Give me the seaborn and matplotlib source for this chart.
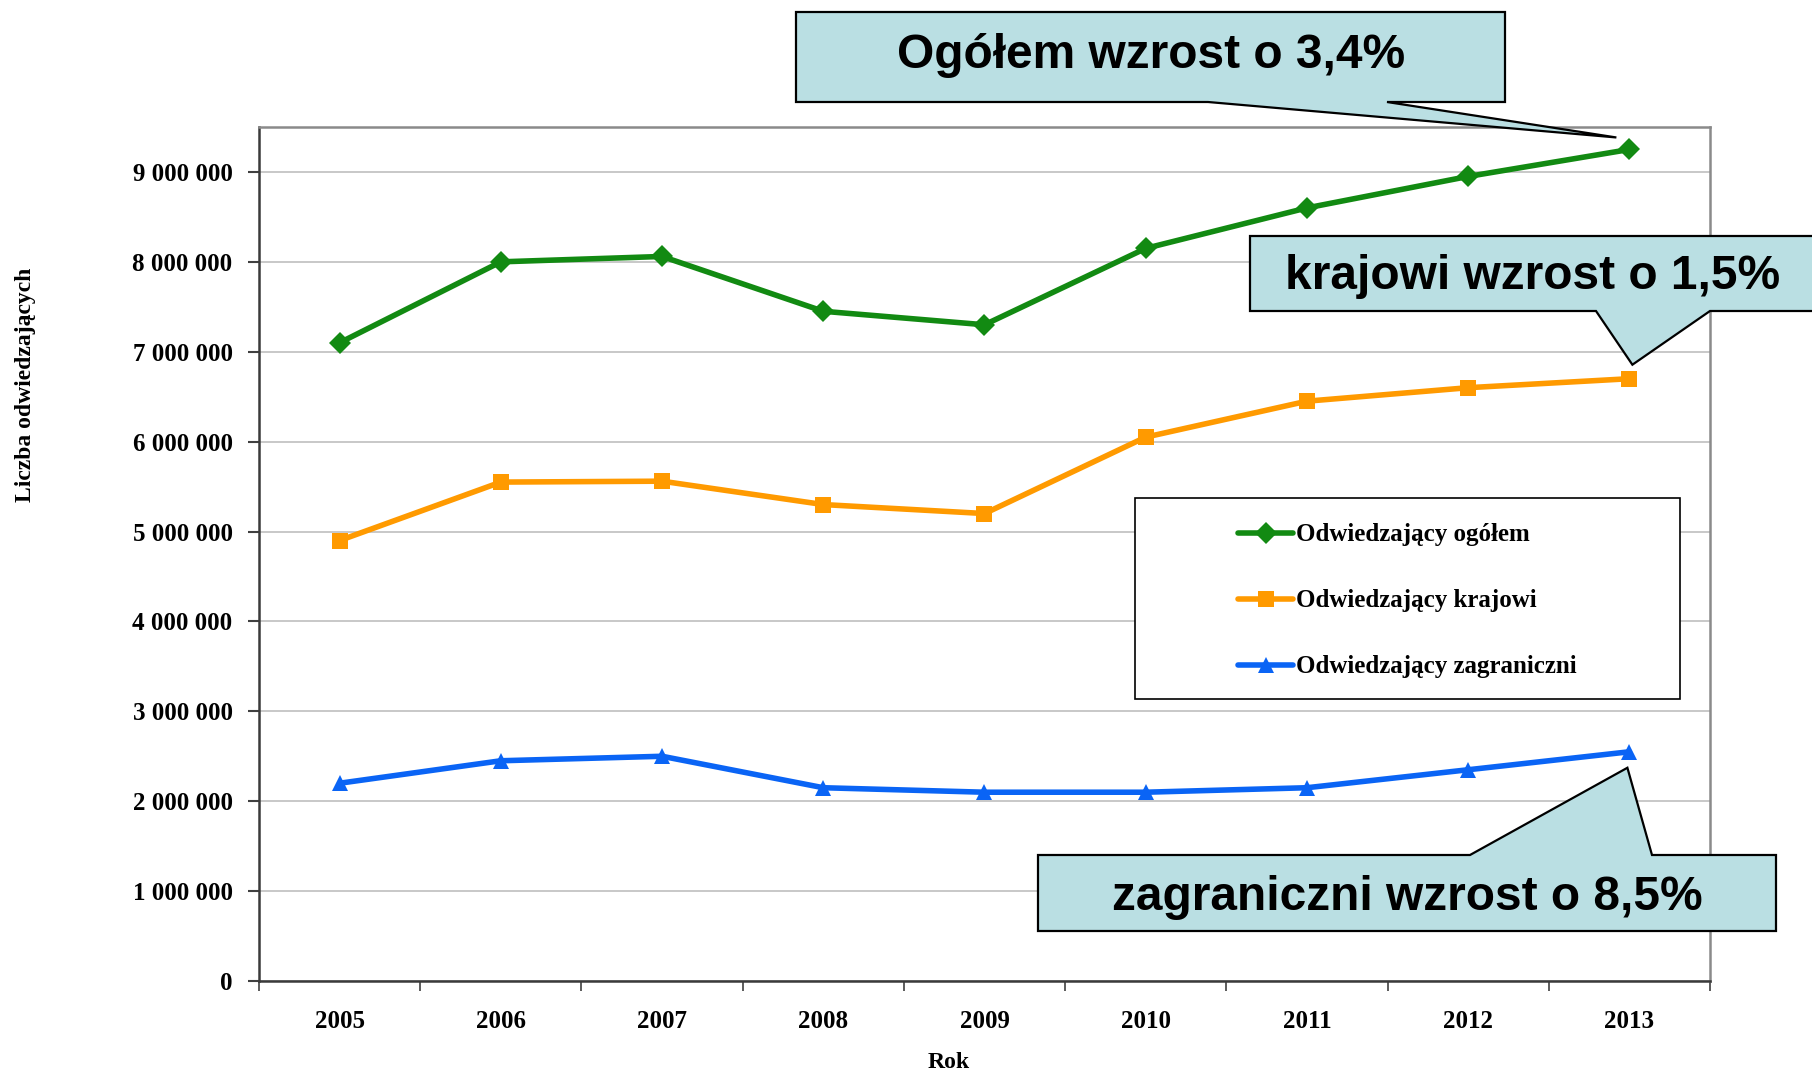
import numpy as np
import pandas as pd
import matplotlib.pyplot as plt
import seaborn as sns
from matplotlib.patches import Polygon, Rectangle
from matplotlib.ticker import FuncFormatter, FixedLocator

# === Data ===
years = [2005, 2006, 2007, 2008, 2009, 2010, 2011, 2012, 2013]
ogolem = [7100000, 8000000, 8060000, 7450000, 7300000, 8150000, 8600000, 8950000, 9250000]
krajowi = [4900000, 5550000, 5560000, 5300000, 5200000, 6050000, 6450000, 6600000, 6700000]
zagraniczni = [2200000, 2450000, 2500000, 2150000, 2100000, 2100000, 2150000, 2350000, 2550000]

series_names = ["Odwiedzający ogółem", "Odwiedzający krajowi", "Odwiedzający zagraniczni"]
callout_texts = ["Ogółem wzrost o 3,4%", "krajowi wzrost o 1,5%", "zagraniczni wzrost o 8,5%"]

colors = {series_names[0]: "#128A12", series_names[1]: "#FF9A00", series_names[2]: "#0A64F5"}
markers = {series_names[0]: "D", series_names[1]: "s", series_names[2]: "^"}

df = pd.DataFrame({
    "Rok": years * 3,
    "value": ogolem + krajowi + zagraniczni,
    "series": np.repeat(series_names, len(years)),
})

sns.set_style("white")
plt.rcParams["font.family"] = ["Liberation Serif", "DejaVu Serif"]
plt.rcParams["text.color"] = "black"
plt.rcParams["axes.labelcolor"] = "black"
plt.rcParams["xtick.color"] = "black"
plt.rcParams["ytick.color"] = "black"

W, H = 1812, 1072
fig = plt.figure(figsize=(W / 100, H / 100), dpi=100)
ax_l, ax_r, ax_t, ax_b = 259, 1710, 127, 981
ax = fig.add_axes([ax_l / W, 1 - ax_b / H, (ax_r - ax_l) / W, (ax_b - ax_t) / H])

sns.lineplot(
    data=df, x="Rok", y="value", hue="series", style="series",
    hue_order=series_names, style_order=series_names,
    palette=colors, markers=markers, dashes=False,
    linewidth=4.0, markersize=11.5, markeredgewidth=0, ax=ax,
)

# === Axes formatting ===
ax.set_xlim(years[0] - 0.5, years[-1] + 0.5)
ax.set_ylim(0, 9500000)
ax.set_xticks(years)
ax.set_xticklabels([str(y) for y in years])
ax.xaxis.set_minor_locator(FixedLocator(np.arange(years[0] - 0.5, years[-1] + 1.0, 1.0)))
ax.set_yticks(np.arange(0, 9000001, 1000000))
ax.yaxis.set_major_formatter(FuncFormatter(lambda v, p: f"{int(v):,}".replace(",", " ")))

ax.tick_params(axis="x", which="major", length=0, pad=21, labelsize=18)
ax.tick_params(axis="x", which="minor", length=7, width=1.2, direction="out", color="#404040", bottom=True)
ax.tick_params(axis="y", which="major", length=8, width=1.5, direction="out", color="#404040",
               pad=11, labelsize=18, left=True)
for lab in ax.get_xticklabels() + ax.get_yticklabels():
    lab.set_fontweight("bold")

ax.grid(axis="y", color="#C4C4C4", linewidth=1.3)
ax.grid(axis="x", visible=False)
ax.set_axisbelow(True)

for side in ["left", "bottom"]:
    ax.spines[side].set_color("#3A3A3A")
    ax.spines[side].set_linewidth(1.8)
for side in ["top", "right"]:
    ax.spines[side].set_color("#8A8A8A")
    ax.spines[side].set_linewidth(1.8)

ax.set_xlabel("Rok", fontsize=17, fontweight="bold")
ax.set_ylabel("Liczba odwiedzających", fontsize=17, fontweight="bold")
ax.xaxis.set_label_coords(0.475, -0.083)
ax.yaxis.set_label_coords(-0.1535, 0.698)

# === Legend with separate frame ===
handles, labels = ax.get_legend_handles_labels()
ax.legend(handles, labels, loc="upper left", bbox_to_anchor=(0.675, 0.536),
          frameon=False, prop={"weight": "bold", "size": 18},
          handlelength=2.2, handletextpad=0.1, labelspacing=1.72,
          borderpad=0, borderaxespad=0)
ax.add_patch(Rectangle((0.604, 0.330), 0.979 - 0.604, 0.566 - 0.330, transform=ax.transAxes,
                       facecolor="white", edgecolor="black", linewidth=1.2, zorder=4))
ax.get_legend().set_zorder(5)

# === Callouts ===
fig.canvas.draw()


def px_to_fig(x, y):
    return (x / W, 1 - y / H)


def tip_from_data(year, value, dx, dy):
    # data point in pixels (top-down) plus offset
    xd, yd = ax.transData.transform((year, value))
    return (xd + dx, H - yd + dy)


fill_col = "#BADFE3"
i_last = len(years) - 1

tip1 = tip_from_data(years[i_last], ogolem[i_last], -13, -12)
box1 = [(796, 12), (1505, 12), (1505, 102), (1387, 102), tip1, (1208, 102), (796, 102)]

tip2 = tip_from_data(years[i_last], krajowi[i_last], 3, -14)
box2 = [(1250, 236), (1830, 236), (1830, 311), (1710, 311), tip2, (1596, 311), (1250, 311)]

tip3 = tip_from_data(years[i_last], zagraniczni[i_last], -2, 16)
box3 = [(1038, 855), (1470, 855), tip3, (1652, 855), (1776, 855), (1776, 931), (1038, 931)]

for pts in [box1, box2, box3]:
    poly = Polygon([px_to_fig(*p) for p in pts], closed=True, transform=fig.transFigure,
                   facecolor=fill_col, edgecolor="black", linewidth=1.6, zorder=10, clip_on=False)
    fig.patches.append(poly)

text_pos = [(1151, 55), (1533, 277), (1407, 897)]
for (tx, ty), txt in zip(text_pos, callout_texts):
    fig.text(*px_to_fig(tx, ty), txt, ha="center", va="center", fontsize=34.5, color="black",
             fontweight="bold", family=["Liberation Sans", "DejaVu Sans"], zorder=11)

plt.savefig("out.png", dpi=100)
plt.close()
